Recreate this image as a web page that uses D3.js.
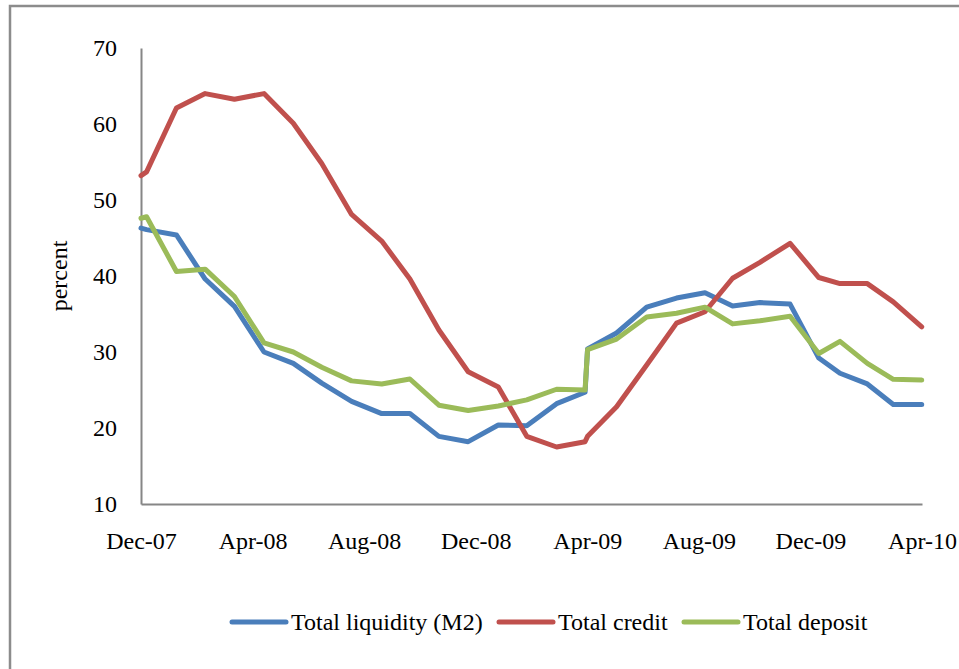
<!DOCTYPE html>
<html>
<head>
<meta charset="utf-8">
<script src="https://cdn.jsdelivr.net/npm/d3@7"></script>
<style>
  html, body { margin: 0; padding: 0; background: #fff; }
  svg { display: block; }
  text { font-family: "Liberation Serif", "Times New Roman", Times, serif; fill: #000; }
</style>
</head>
<body>
<svg id="chart" width="959" height="669"></svg>
<script>
const months = [0, 0.2, 1.27, 2.3, 3.35, 4.41, 5.46, 6.48, 7.55, 8.63, 9.64, 10.68, 11.73, 12.81, 13.83,
  14.9, 15.92, 16.01, 17.05, 18.13, 19.2, 20.22, 21.21, 22.19, 23.27, 24.3, 25.06, 26.04, 26.97, 27.99];

const liquidity = [46.3, 46.1, 45.4, 39.6, 36.0, 30.0, 28.5, 25.9, 23.5, 21.9, 21.9, 18.9, 18.2, 20.4, 20.3,
  23.2, 24.7, 30.4, 32.5, 35.9, 37.1, 37.8, 36.05, 36.5, 36.3, 29.2, 27.2, 25.8, 23.1, 23.1];

const credit = [53.2, 53.7, 62.1, 64.0, 63.25, 64.0, 60.1, 54.8, 48.1, 44.6, 39.6, 32.9, 27.4, 25.4, 18.9,
  17.5, 18.2, 18.9, 22.8, 28.3, 33.8, 35.3, 39.7, 41.8, 44.3, 39.8, 39.0, 39.0, 36.6, 33.3];

const deposit = [47.6, 47.8, 40.6, 40.9, 37.3, 31.2, 30.0, 28.0, 26.2, 25.8, 26.45, 23.0, 22.3, 22.9, 23.7,
  25.1, 25.0, 30.3, 31.7, 34.6, 35.1, 35.9, 33.7, 34.1, 34.7, 29.8, 31.4, 28.5, 26.4, 26.3];

const xTickMonths = [0, 4, 8, 12, 16, 20, 24, 28];
const xTickLabels = ["Dec-07", "Apr-08", "Aug-08", "Dec-08", "Apr-09", "Aug-09", "Dec-09", "Apr-10"];
const yTicks = [10, 20, 30, 40, 50, 60, 70];
const seriesNames = ["Total liquidity (M2)", "Total credit", "Total deposit"];
const seriesColors = ["#4A7EBB", "#C0504D", "#9BBB59"];

const series = [liquidity, credit, deposit];

const svg = d3.select("#chart");
const fontSize = "24px";
const fontFam = '"Liberation Serif", "Times New Roman", Times, serif';

// outer frame
svg.append("rect")
  .attr("x", 10).attr("y", 6)
  .attr("width", 1000).attr("height", 700)
  .attr("fill", "none").attr("stroke", "#8c8c8c").attr("stroke-width", 2.5);

const x = d3.scaleLinear().domain([0, 28]).range([141, 922]);
const y = d3.scaleLinear().domain([10, 70]).range([504, 48]);

// y axis
const yAxis = d3.axisLeft(y).tickValues(yTicks).tickSize(0).tickPadding(24).tickFormat(d3.format("d"));
const gy = svg.append("g").attr("transform", `translate(${x(0)},0)`).call(yAxis);
gy.attr("font-family", null).attr("font-size", null);
gy.select(".domain").attr("stroke", "#868686").attr("stroke-width", 2);
gy.selectAll("text").style("font-size", fontSize).style("font-family", fontFam)
  .attr("fill", "#000");

// x axis
const xAxis = d3.axisBottom(x).tickValues(xTickMonths).tickSize(0).tickPadding(0)
  .tickFormat((d, i) => xTickLabels[i]);
const gx = svg.append("g").attr("transform", `translate(0,${y(10)})`).call(xAxis);
gx.attr("font-family", null).attr("font-size", null);
gx.select(".domain").attr("stroke", "#868686").attr("stroke-width", 2);
gx.selectAll("text").style("font-size", fontSize).style("font-family", fontFam)
  .attr("fill", "#000").attr("dy", null).attr("y", 45);

// y label
svg.append("text")
  .attr("transform", `translate(67,${(y(10) + y(70)) / 2}) rotate(-90)`)
  .attr("text-anchor", "middle")
  .style("font-size", fontSize).style("font-family", fontFam)
  .text("percent");

// lines
const line = d3.line().x((d, i) => x(months[i])).y(d => y(d));
series.forEach((s, k) => {
  svg.append("path")
    .datum(s)
    .attr("d", line)
    .attr("fill", "none")
    .attr("stroke", seriesColors[k])
    .attr("stroke-width", 5)
    .attr("stroke-linejoin", "round")
    .attr("stroke-linecap", "round");
});

// legend
const legendX = [232, 499, 684];
const legendY = 622;
seriesNames.forEach((name, k) => {
  const g = svg.append("g").attr("transform", `translate(${legendX[k]},${legendY})`);
  g.append("line").attr("x1", 0).attr("x2", 54).attr("y1", 0).attr("y2", 0)
    .attr("stroke", seriesColors[k]).attr("stroke-width", 5).attr("stroke-linecap", "round");
  g.append("text").attr("x", 59).attr("y", 8)
    .style("font-size", fontSize).style("font-family", fontFam).text(name);
});
</script>
</body>
</html>
